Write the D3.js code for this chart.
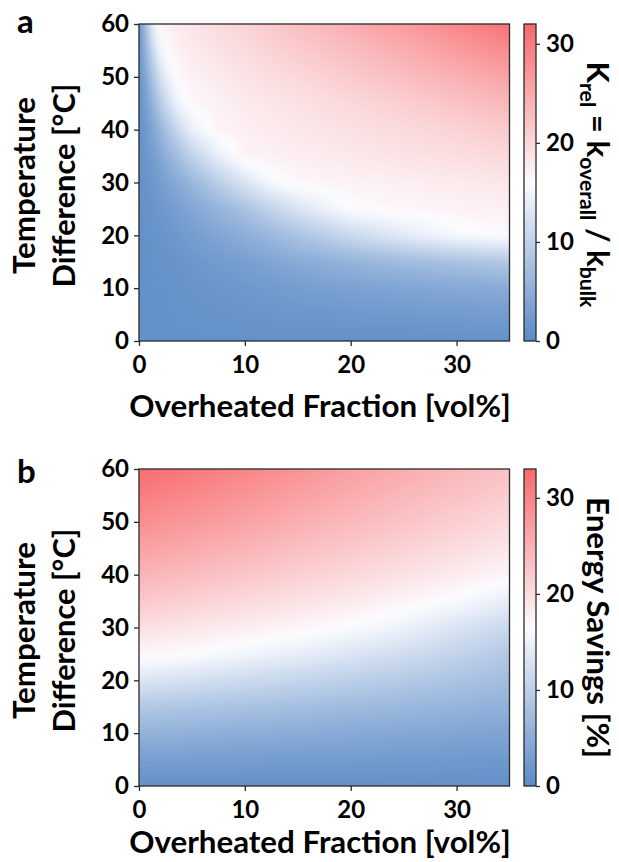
<!DOCTYPE html>
<html>
<head>
<meta charset="utf-8">
<script src="https://cdn.jsdelivr.net/npm/d3@7"></script>
<style>
  body { margin: 0; background: #fff; }
  svg { display: block; }
  text { font-family: Lato, "Open Sans", sans-serif; font-weight: 700; fill: #000; }
</style>
</head>
<body>
<script>
// ---- data ----
// panel a: K_rel grid, rows = temperature difference, columns = overheated fraction
const tempRows = [0, 5, 10, 15, 20, 25, 30, 35, 40, 45, 50, 55, 60];
const fracColsA = [0, 0.5, 1, 1.5, 2, 2.5, 3.5, 5, 7.5, 10, 12.5, 15, 20, 25, 30, 35];
const kRel = [
  [1, 1, 1, 1, 1, 1, 1, 1, 1, 1, 1, 1, 1, 1, 1, 1],
  [1, 1, 1, 1, 1, 1, 1.1, 1.2, 1.3, 1.5, 1.65, 1.8, 2, 2.2, 2.4, 2.6],
  [1, 1, 1, 1, 1.05, 1.1, 1.2, 1.4, 1.7, 2, 2.35, 2.7, 3.3, 3.8, 4.2, 4.6],
  [1, 1, 1.05, 1.1, 1.15, 1.2, 1.4, 1.8, 2.4, 3, 3.7, 4.5, 5.8, 6.9, 7.8, 8.6],
  [1, 1.05, 1.15, 1.3, 1.45, 1.6, 2, 2.6, 3.8, 5, 6.4, 8, 11, 13.5, 15.5, 16.3],
  [1, 1.1, 1.3, 1.6, 1.9, 2.2, 2.8, 3.9, 5.8, 7.8, 10.2, 12.6, 16.1, 16.6, 17, 17.4],
  [1, 1.2, 1.6, 2.1, 2.6, 3.2, 4.3, 6.2, 9.5, 12.6, 15.5, 16.6, 17.1, 17.5, 17.9, 18.4],
  [1, 1.5, 2.2, 3, 4, 5, 7, 10, 14, 17, 17.3, 17.6, 18.1, 18.7, 19.3, 19.9],
  [1, 1.8, 3, 4.5, 6, 7.5, 10.5, 14.3, 16.9, 17.5, 17.9, 18.3, 19, 19.7, 20.5, 21.5],
  [1, 2.3, 4.3, 6.8, 9, 11, 14.5, 16.5, 17.3, 17.9, 18.4, 18.9, 19.9, 21, 22.2, 23.5],
  [1.1, 3.2, 6.3, 9.5, 12, 14, 16.2, 17.3, 18, 18.7, 19.35, 20, 21.4, 22.8, 24.2, 25.8],
  [1.2, 4.5, 8.8, 12.5, 14.8, 16.1, 17.1, 17.9, 18.8, 19.6, 20.45, 21.3, 22.9, 24.6, 26.4, 28.3],
  [1.5, 6, 11.5, 15.6, 16.6, 17.1, 17.8, 18.6, 19.6, 20.6, 21.6, 22.6, 24.6, 26.6, 28.8, 31]
];

// panel b: energy savings [%]
const fracColsB = [0, 5, 10, 15, 20, 25, 30, 35];
const savings = [
  [1, 1, 1, 1, 1, 1, 1, 1],
  [3, 2.9, 2.8, 2.6, 2.5, 2.4, 2.2, 2.1],
  [5.8, 5.5, 5.2, 4.9, 4.6, 4.3, 4, 3.7],
  [9, 8.6, 8.1, 7.6, 7.1, 6.6, 6.1, 5.5],
  [13.2, 12.4, 11.6, 10.8, 10, 9.2, 8.3, 7.4],
  [17.2, 16.6, 15.4, 14.4, 13.2, 12, 10.6, 9],
  [19.8, 19, 18.2, 17.3, 16.3, 14.9, 12.9, 11.3],
  [22.3, 21.4, 20.4, 19.5, 18.6, 17.4, 16.2, 14.3],
  [24.6, 23.6, 22.6, 21.5, 20.5, 19.5, 18.4, 17.2],
  [26.7, 25.7, 24.6, 23.4, 22.3, 21.2, 20.1, 19],
  [28.8, 27.7, 26.5, 25.2, 24, 22.8, 21.6, 20.5],
  [30.7, 29.5, 28.2, 26.8, 25.5, 24.2, 23, 21.8],
  [32.6, 31.2, 29.8, 28.3, 26.9, 25.5, 24.2, 23]
];

const xTicks = [0, 10, 20, 30];
const yTicks = [0, 10, 20, 30, 40, 50, 60];
const cbTicks = [0, 10, 20, 30];
const colorMaxA = 32;
const colorMaxB = 33;

// ---- layout ----
const w = 619, h = 862;
const plotL = 139, plotR = 509.5;
const cbL = 524, cbW = 12;
const colors = ["#5A8AC6", "#FCFCFF", "#F8696B"];
const frameColor = "#2a2a2a";
const blurPx = 3, margin = 10;

let svg = d3.select("body").append("svg").attr("width", w).attr("height", h);

// shrink/grow font-size so that a text fills a given length
function fitText(sel, len) {
  const L = sel.node().getComputedTextLength();
  const fs = parseFloat(sel.attr("font-size"));
  sel.attr("font-size", fs * len / L);
}

function locate(arr, v) {
  let i = d3.bisectRight(arr, v) - 1;
  i = Math.max(0, Math.min(arr.length - 2, i));
  const f = Math.max(0, Math.min(1, (v - arr[i]) / (arr[i + 1] - arr[i])));
  return [i, f];
}

let gradN = 0;
function drawPanel(p) {
  const x = d3.scaleLinear().domain([0, 35]).range([plotL, plotR]);
  const y = d3.scaleLinear().domain([0, 60]).range([p.bottom, p.top]);
  const color = d3.scaleLinear().domain([0, p.cmax / 2, p.cmax]).range(colors);

  // heatmap: shade the grid onto a canvas (a little wider than the plot, so the
  // soft blur has no dark edges), then crop it into the svg
  const cw = Math.round(plotR - plotL), ch = Math.round(p.bottom - p.top);
  const bw = cw + 2 * margin, bh = ch + 2 * margin;
  const big = document.createElement("canvas");
  big.width = bw; big.height = bh;
  const bctx = big.getContext("2d");
  const img = bctx.createImageData(bw, bh);
  const g = p.grid;
  for (let j = 0; j < bh; j++) {
    const [ti, tf] = locate(tempRows, y.invert(p.top - margin + j + 0.5));
    for (let i = 0; i < bw; i++) {
      const [xi, xf] = locate(p.cols, x.invert(plotL - margin + i + 0.5));
      const v0 = g[ti][xi] * (1 - xf) + g[ti][xi + 1] * xf;
      const v1 = g[ti + 1][xi] * (1 - xf) + g[ti + 1][xi + 1] * xf;
      const c = d3.rgb(color(v0 * (1 - tf) + v1 * tf));
      const k = (j * bw + i) * 4;
      img.data[k] = c.r; img.data[k + 1] = c.g; img.data[k + 2] = c.b; img.data[k + 3] = 255;
    }
  }
  bctx.putImageData(img, 0, 0);
  const canvas = document.createElement("canvas");
  canvas.width = cw; canvas.height = ch;
  const ctx = canvas.getContext("2d");
  ctx.filter = "blur(" + blurPx + "px)";
  ctx.drawImage(big, -margin, -margin);

  svg.append("image")
    .attr("x", plotL).attr("y", p.top)
    .attr("width", cw).attr("height", ch)
    .attr("preserveAspectRatio", "none")
    .attr("href", canvas.toDataURL());

  svg.append("rect")
    .attr("x", plotL).attr("y", p.top)
    .attr("width", plotR - plotL).attr("height", p.bottom - p.top)
    .attr("fill", "none").attr("stroke", frameColor).attr("stroke-width", 1.3);

  const xAxis = d3.axisBottom(x).tickValues(xTicks).tickSize(5).tickPadding(10);
  const yAxis = d3.axisLeft(y).tickValues(yTicks).tickSize(5).tickPadding(5);
  svg.append("g").attr("class", "ax").attr("transform", "translate(0," + p.bottom + ")").call(xAxis)
    .call(g => g.select(".domain").remove());
  svg.append("g").attr("class", "ax").attr("transform", "translate(" + plotL + ",0)").call(yAxis)
    .call(g => g.select(".domain").remove());

  // colorbar
  const cy = d3.scaleLinear().domain([0, p.cmax]).range([p.bottom, p.top]);
  const gid = "grad" + (gradN++);
  const grad = svg.append("defs").append("linearGradient")
    .attr("id", gid).attr("x1", 0).attr("y1", 1).attr("x2", 0).attr("y2", 0);
  [0, 0.5, 1].forEach((o, i) => {
    grad.append("stop").attr("offset", o).attr("stop-color", colors[i]);
  });
  svg.append("rect")
    .attr("x", cbL).attr("y", p.top).attr("width", cbW).attr("height", p.bottom - p.top)
    .attr("fill", "url(#" + gid + ")")
    .attr("stroke", frameColor).attr("stroke-width", 1.3);
  const cbAxis = d3.axisRight(cy).tickValues(cbTicks).tickSize(4).tickPadding(6);
  svg.append("g").attr("class", "ax").attr("transform", "translate(" + (cbL + cbW) + ",0)").call(cbAxis)
    .call(g => g.select(".domain").remove());

  svg.selectAll(".ax").attr("font-size", null).attr("font-family", null);
  svg.selectAll(".tick text").attr("font-size", 24);
  svg.selectAll(".tick line").attr("stroke", frameColor).attr("stroke-width", 1.3);

  // axis titles
  const xt = svg.append("text")
    .attr("x", 320).attr("y", p.bottom + p.titleOff)
    .attr("text-anchor", "middle").attr("font-size", 28)
    .text("Overheated Fraction [vol%]");
  fitText(xt, 382);

  const midY = (p.top + p.bottom) / 2 + 3;
  const y1 = svg.append("text")
    .attr("transform", "translate(35," + midY + ") rotate(-90)")
    .attr("text-anchor", "middle").attr("font-size", 26)
    .text("Temperature");
  fitText(y1, 177);
  const y2 = svg.append("text")
    .attr("transform", "translate(75," + midY + ") rotate(-90)")
    .attr("text-anchor", "middle").attr("font-size", 26)
    .text("Difference [°C]");
  fitText(y2, 204);

  // colorbar title, kept inside the right edge
  const cbMid = (p.top + p.bottom) / 2 + p.cbShift;
  const cl = svg.append("text")
    .attr("text-anchor", "middle").attr("font-size", 26);
  p.cbLabel(cl);
  fitText(cl, p.cbLen);
  const fs = parseFloat(cl.attr("font-size"));
  const bx = Math.min(592, w - 1 - 1.0 * fs);
  cl.attr("transform", "translate(" + bx + "," + cbMid + ") rotate(90)");

  svg.append("text")
    .attr("x", 17).attr("y", p.top + p.letterOff)
    .attr("font-size", 33)
    .text(p.letter);
}

drawPanel({
  top: 24, bottom: 341, cols: fracColsA, grid: kRel, cmax: colorMaxA,
  letter: "a", letterOff: 9, titleOff: 76,
  cbShift: 2, cbLen: 246,
  cbLabel: t => {
    t.append("tspan").text("K");
    t.append("tspan").attr("font-size", "0.68em").attr("dy", "0.3em").text("rel");
    t.append("tspan").attr("dy", "-0.2em").text(" = k");
    t.append("tspan").attr("font-size", "0.68em").attr("dy", "0.3em").text("overall");
    t.append("tspan").attr("dy", "-0.2em").text(" / k");
    t.append("tspan").attr("font-size", "0.68em").attr("dy", "0.3em").text("bulk");
  }
});

drawPanel({
  top: 469, bottom: 786, cols: fracColsB, grid: savings, cmax: colorMaxB,
  letter: "b", letterOff: 14, titleOff: 67,
  cbShift: 0, cbLen: 261,
  cbLabel: t => t.text("Energy Savings [%]")
});
</script>
</body>
</html>
